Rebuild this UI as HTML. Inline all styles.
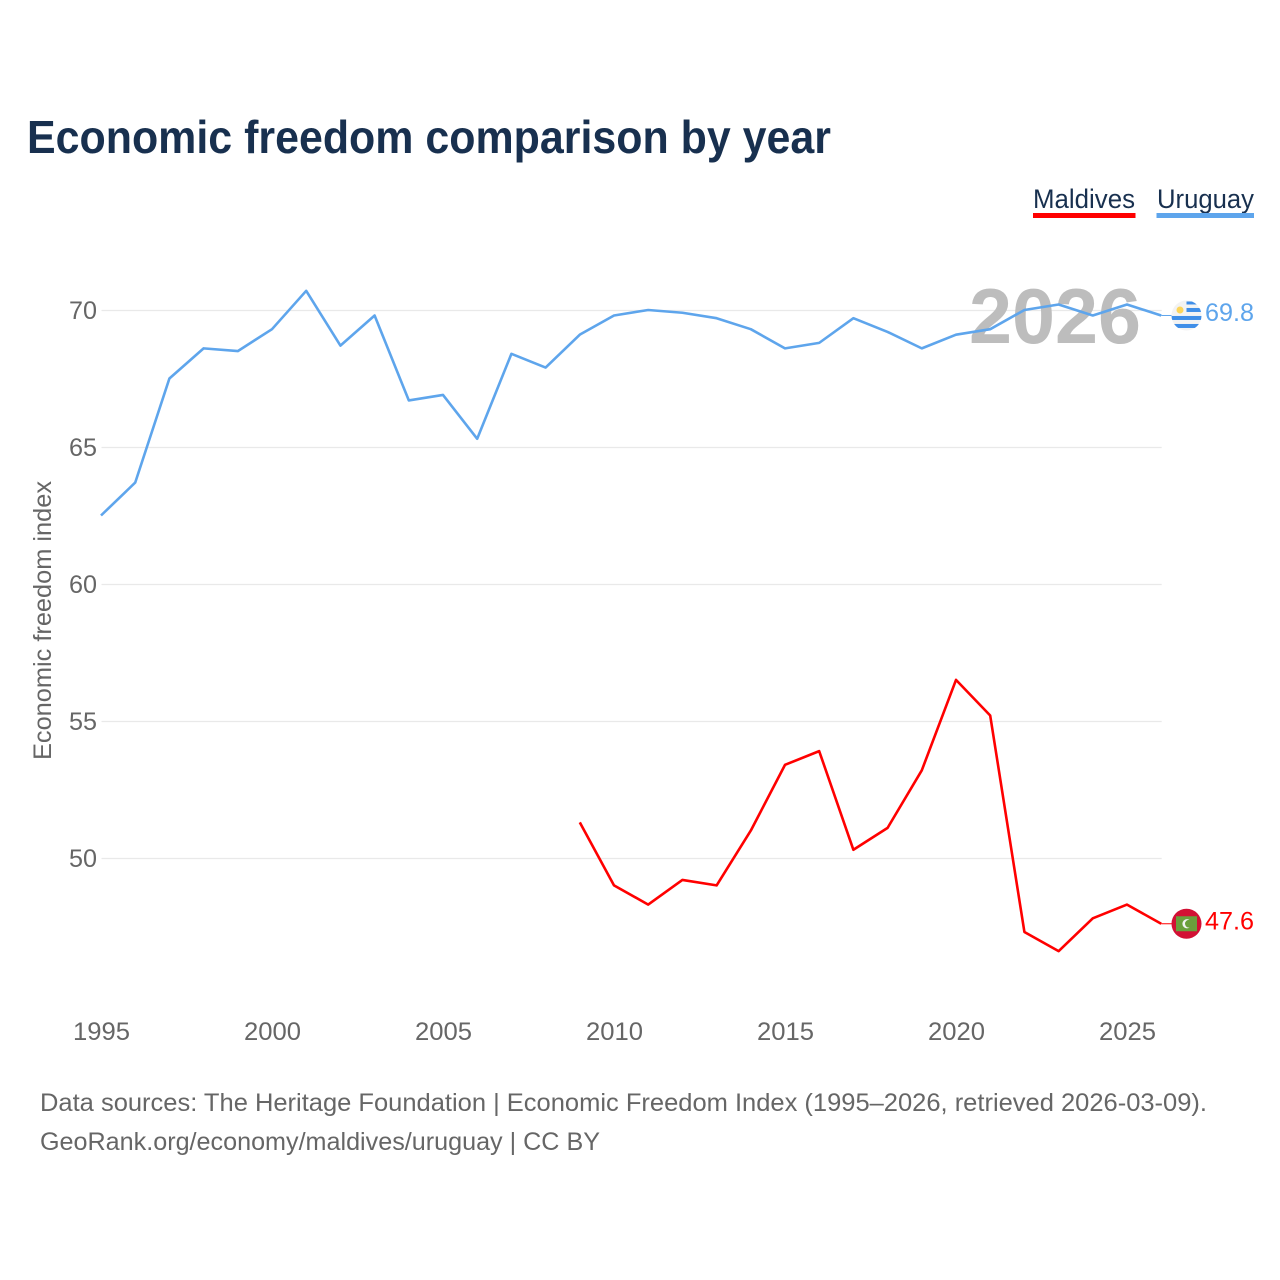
<!DOCTYPE html>
<html lang="en">
<head>
<meta charset="utf-8">
<title>Economic freedom comparison by year</title>
<style>
html,body{margin:0;padding:0;background:#fff}
svg{display:block;font-family:"Liberation Sans",sans-serif}
</style>
</head>
<body>
<svg id="chart" xmlns="http://www.w3.org/2000/svg" width="1280" height="1280" viewBox="0 0 1280 1280">
  <rect width="1280" height="1280" fill="#fff"/>
  <text x="27" y="153" font-size="46" font-weight="700" fill="#18304f" textLength="804" lengthAdjust="spacingAndGlyphs">Economic freedom comparison by year</text>

  <g>
    <text x="1033" y="208" font-size="27" fill="#18304f" textLength="102" lengthAdjust="spacingAndGlyphs">Maldives</text>
    <rect x="1033" y="213" width="102.5" height="5" fill="#ff0000"/>
  </g>
  <g>
    <text x="1157" y="208" font-size="27" fill="#18304f" textLength="97" lengthAdjust="spacingAndGlyphs">Uruguay</text>
    <rect x="1156.5" y="213" width="97.5" height="5" fill="#5ea5ec"/>
  </g>

  <g id="grid"></g>
  <text x="969" y="343" font-size="78" font-weight="700" fill="#bdbdbd" textLength="172" lengthAdjust="spacingAndGlyphs">2026</text>
  <g id="yticks"></g>
  <g id="xticks"></g>
  <text transform="translate(51,620.5) rotate(-90)" text-anchor="middle" font-size="25" fill="#666" textLength="279" lengthAdjust="spacingAndGlyphs">Economic freedom index</text>

  <g id="series"></g>

  <defs>
    <clipPath id="flag-clip-circle"><circle cx="0" cy="0" r="15"/></clipPath>
  </defs>
  <g id="flag-uruguay">
    <g clip-path="url(#flag-clip-circle)">
      <rect x="-15" y="-15" width="30" height="30" fill="#f3f3f3"/>
      <rect x="0" y="-14" width="15" height="3" fill="#3f8ee8"/>
      <rect x="0" y="-7.5" width="15" height="4" fill="#3f8ee8"/>
      <rect x="-15" y="0.5" width="30" height="4" fill="#3f8ee8"/>
      <rect x="-15" y="8.5" width="30" height="4" fill="#3f8ee8"/>
      <circle cx="-6.5" cy="-5.5" r="3.5" fill="#fcd55a"/>
    </g>
  </g>
  <g id="flag-maldives">
    <circle cx="0" cy="0" r="15" fill="#d21034"/>
    <rect x="-10.5" y="-7.5" width="21" height="15" fill="#6a9f3c"/>
    <circle cx="0.5" cy="0" r="4.6" fill="#f2f2f2"/>
    <circle cx="2.4" cy="0" r="3.9" fill="#6a9f3c"/>
  </g>

  <text x="40" y="1111" font-size="25" fill="#666" textLength="1167" lengthAdjust="spacingAndGlyphs">Data sources: The Heritage Foundation | Economic Freedom Index (1995–2026, retrieved 2026-03-09).</text>
  <text x="40" y="1150" font-size="25" fill="#666" textLength="560" lengthAdjust="spacingAndGlyphs">GeoRank.org/economy/maldives/uruguay | CC BY</text>
</svg>

<script>
const years = [1995,1996,1997,1998,1999,2000,2001,2002,2003,2004,2005,2006,2007,2008,2009,2010,2011,2012,2013,2014,2015,2016,2017,2018,2019,2020,2021,2022,2023,2024,2025,2026];
const uruguayValues = [62.5,63.7,67.5,68.6,68.5,69.3,70.7,68.7,69.8,66.7,66.9,65.3,68.4,67.9,69.1,69.8,70.0,69.9,69.7,69.3,68.6,68.8,69.7,69.2,68.6,69.1,69.3,70.0,70.2,69.8,70.2,69.8];
const maldivesValues = [null,null,null,null,null,null,null,null,null,null,null,null,null,null,51.3,49.0,48.3,49.2,49.0,51.0,53.4,53.9,50.3,51.1,53.2,56.5,55.2,47.3,46.6,47.8,48.3,47.6];
const yTickValues = [50,55,60,65,70];
const xTickValues = [1995,2000,2005,2010,2015,2020,2025];

const NS = 'http://www.w3.org/2000/svg';
const xScale = function (yr) { return 101.5 + (yr - 1995) * 34.2; };
const yScale = function (v) { return 858.5 - (v - 50) * 27.4; };
const LINE_DX = -0.5;
const LINE_DY = -0.5;

function make(tag, parent, attrs, text) {
  const el = document.createElementNS(NS, tag);
  Object.keys(attrs).forEach(function (k) { el.setAttribute(k, attrs[k]); });
  if (text !== undefined) el.textContent = text;
  parent.appendChild(el);
  return el;
}

const gridLayer = document.getElementById('grid');
const yTickLayer = document.getElementById('yticks');
const xTickLayer = document.getElementById('xticks');
const seriesLayer = document.getElementById('series');

yTickValues.forEach(function (v) {
  const line = make('line', gridLayer, { x1: 101.5, x2: xScale(2026), y1: yScale(v), y2: yScale(v), stroke: '#e9e9e9', 'stroke-width': 1.3 });
  
  
  const label = make('text', yTickLayer, { x: 97, y: yScale(v) + 8.5, 'text-anchor': 'end', 'font-size': 25, fill: '#666', textLength: 28, lengthAdjust: 'spacingAndGlyphs' }, String(v));
  
  
});

xTickValues.forEach(function (yr) {
  const label = make('text', xTickLayer, { x: xScale(yr), y: 1040, 'text-anchor': 'middle', 'font-size': 25, fill: '#666', textLength: 57, lengthAdjust: 'spacingAndGlyphs' }, String(yr));
  
  
});

function drawSeries(name, values, color, flagId) {
  const pts = [];
  let lastValue = null;
  values.forEach(function (v, i) {
    if (v === null) return;
    pts.push((xScale(years[i]) + LINE_DX).toFixed(2) + ',' + (yScale(v) + LINE_DY).toFixed(2));
    lastValue = v;
  });
  const line = make('polyline', seriesLayer, { points: pts.join(' '), fill: 'none', stroke: color, 'stroke-width': 2.6, 'stroke-linejoin': 'round' });
  
  

  const endY = yScale(lastValue) + LINE_DY;
  const connector = make('line', seriesLayer, { x1: xScale(2026) + LINE_DX, x2: 1172, y1: endY, y2: endY, stroke: color, 'stroke-width': 1 });
  
  

  document.getElementById(flagId).setAttribute('transform', 'translate(1186.5,' + endY + ')');

  const value = make('text', seriesLayer, { x: 1205, y: endY + 5.5, 'font-size': 25, fill: color, textLength: 49, lengthAdjust: 'spacingAndGlyphs' }, lastValue.toFixed(1));
  
  
}

drawSeries('uruguay', uruguayValues, '#5ea5ec', 'flag-uruguay');
drawSeries('maldives', maldivesValues, '#ff0000', 'flag-maldives');
</script>
</body>
</html>
